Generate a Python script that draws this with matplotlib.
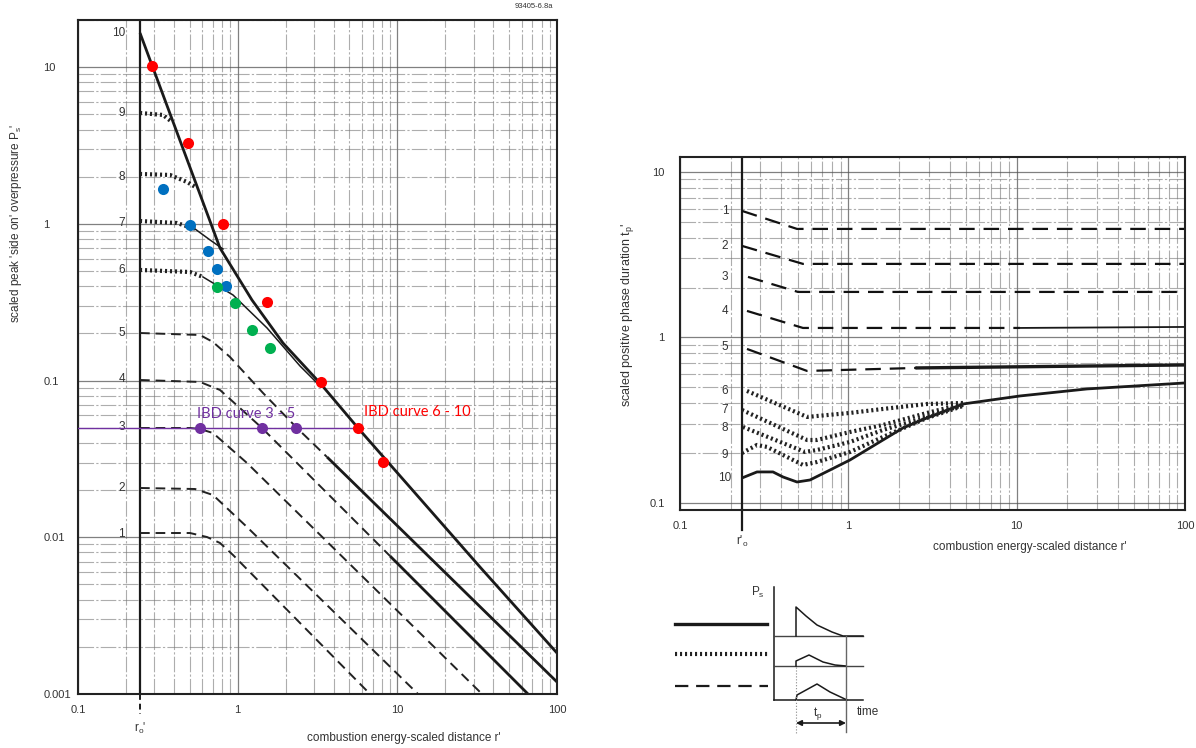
import matplotlib
matplotlib.use("Agg")
import matplotlib.pyplot as plt
from matplotlib.ticker import FixedLocator, FixedFormatter, NullFormatter

plt.rcParams['font.family'] = ['Liberation Sans', 'DejaVu Sans']

W, H = 1196, 748
INK = '#1a1a1a'
TXT = '#333333'

# ===================== Left chart: scaled peak side-on overpressure =====================
ro_left = 0.2445
left_xticks = [0.1, 1, 10, 100]
left_xticklabels = ['0.1', '1', '10', '100']
left_yticks = [0.001, 0.01, 0.1, 1, 10]
left_yticklabels = ['0.001', '0.01', '0.1', '1', '10']

c10_r = [0.2445, 0.7749, 1.229, 1.922, 3.278, 5.671, 32.94, 100]
c10_p = [16.53, 0.7016, 0.3268, 0.1737, 0.0965, 0.04983, 0.00646, 0.001826]
c9_r = [0.2445, 0.3406, 0.3880]
c9_p = [5.102, 4.955, 4.470]
c8_r = [0.2445, 0.3770, 0.4816, 0.5563]
c8_p = [2.082, 2.052, 1.851, 1.695]
c7_r = [0.2445, 0.4169, 0.5405]
c7_p = [1.043, 1.013, 0.9280]
c7_tail_r = [0.5405, 0.6712, 0.8091]
c7_tail_p = [0.9280, 0.7896, 0.6915]
c6_r = [0.2445, 0.5028, 0.6065]
c6_p = [0.5081, 0.4932, 0.4583]
c6_tail_r = [0.6065, 0.9350, 1.527, 2.457, 3.278]
c6_tail_p = [0.4583, 0.3518, 0.2167, 0.1239, 0.0924]
c5_r = [0.2445, 0.5806, 0.7004, 0.8954, 1.440, 2.352, 3.627]
c5_p = [0.2012, 0.1954, 0.1763, 0.1414, 0.0834, 0.04983, 0.03254]
c5_tail_r = [3.627, 100]
c5_tail_p = [0.03254, 0.001193]
c4_r = [0.2445, 0.5806, 0.7749, 1.420, 8.995]
c4_p = [0.1009, 0.0980, 0.0871, 0.04983, 0.00760]
c4_tail_r = [8.995, 65.81]
c4_tail_p = [0.00760, 0.001]
c3_r = [0.2445, 0.5028, 0.5806, 0.7004, 1.144, 33.90]
c3_p = [0.04983, 0.04983, 0.04910, 0.04630, 0.02979, 0.001]
c2_r = [0.2445, 0.5405, 0.7004, 1.144, 13.47]
c2_p = [0.02064, 0.02033, 0.01862, 0.01163, 0.001]
c1_r = [0.2445, 0.5028, 0.6424, 0.7749, 0.9350, 6.744]
c1_p = [0.01065, 0.01065, 0.01004, 0.00920, 0.00771, 0.001]

left_curve_names = ['1', '2', '3', '4', '5', '6', '7', '8', '9', '10']
left_curve_label_p = [0.0105, 0.02064, 0.0506, 0.1024, 0.2012, 0.5081, 1.013, 1.992, 5.102, 16.53]

red_r = [0.2907, 0.4886, 0.8091, 1.527, 3.326, 5.671, 8.133]
red_p = [10.18, 3.283, 0.9986, 0.3174, 0.0980, 0.04983, 0.03022]
blue_r = [0.3406, 0.5028, 0.6518, 0.7421, 0.8451]
blue_p = [1.670, 0.984, 0.6718, 0.5157, 0.4016]
green_r = [0.7421, 0.9623, 1.229, 1.594]
green_p = [0.3957, 0.3128, 0.2103, 0.1614]
purple_r = [0.5806, 1.420, 2.319]
purple_p = [0.04983, 0.04983, 0.04983]
ibd_level = 0.04983
ibd_line_end = 5.671

# ===================== Right chart: scaled positive phase duration =====================
ro_right = 0.2335
right_xticks = [0.1, 1, 10, 100]
right_xticklabels = ['0.1', '1', '10', '100']
right_yticks = [0.1, 1, 10]
right_yticklabels = ['0.1', '1', '10']

d1_r = [0.2335, 0.4955, 100]
d1_t = [5.812, 4.524, 4.524]
d2_r = [0.2335, 0.5378, 100]
d2_t = [3.572, 2.781, 2.781]
d3_r = [0.2535, 0.5023, 100]
d3_t = [2.321, 1.883, 1.883]
d4_r = [0.2500, 0.5378, 10.47]
d4_t = [1.446, 1.141, 1.141]
d4_tail_r = [10.47, 100]
d4_tail_t = [1.141, 1.157]
d5_r = [0.2500, 0.5682, 2.559]
d5_t = [0.8520, 0.6276, 0.6543]
d5_tail_r = [2.559, 100]
d5_tail_t = [0.6543, 0.6820]
d6_r = [0.2500, 0.5682, 1.023, 1.607, 2.934, 4.799]
d6_t = [0.4750, 0.3309, 0.3499, 0.3698, 0.3963, 0.4018]
d7_r = [0.2335, 0.5682, 0.6515, 1.023, 1.607, 2.934, 4.799]
d7_t = [0.3646, 0.2402, 0.2402, 0.2685, 0.2960, 0.3499, 0.3963]
d8_r = [0.2367, 0.5527, 0.6515, 1.023, 1.607, 2.934, 4.799]
d8_t = [0.2878, 0.2033, 0.2090, 0.2337, 0.2762, 0.3309, 0.3911]
d9_r = [0.2335, 0.2867, 0.3286, 0.5378, 0.6515, 1.023, 1.607, 2.934, 4.799]
d9_t = [0.2004, 0.2241, 0.2181, 0.1697, 0.1769, 0.2033, 0.2506, 0.3263, 0.3856]
d10_r = [0.2335, 0.2867, 0.3568, 0.4091, 0.4955, 0.5920, 0.7784, 1.023, 1.607,
         2.112, 2.934, 4.799, 10.47, 26.18, 100]
d10_t = [0.1416, 0.1540, 0.1540, 0.1436, 0.1339, 0.1377, 0.1582, 0.1819, 0.2402,
         0.2839, 0.3263, 0.3963, 0.4431, 0.4885, 0.5309]

right_curve_names = ['1', '2', '3', '4', '5', '6', '7', '8', '9', '10']
right_curve_label_t = [5.812, 3.572, 2.321, 1.446, 0.8762, 0.4750, 0.3646, 0.2839, 0.1950, 0.1416]

# ===================== Legend schematic (pixel-space drawing) =====================
leg_solid_x = [675, 767]
leg_hatch_x = [675, 768]
leg_dash_x = [675, 768]
leg_rows_y = [624, 654, 686]
pulse1_x = [796, 796, 806, 817, 832, 843, 863]
pulse1_y = [636, 607, 616, 625, 632, 636, 636]
pulse2_x = [796, 796, 809, 823, 835, 846]
pulse2_y = [666, 661, 655, 662, 665, 666]
pulse3_x = [796, 797, 817, 830, 847]
pulse3_y = [700, 695, 684, 692, 700]

# ---------------------------------------------------------------------------
fig = plt.figure(figsize=(W / 100, H / 100), dpi=100)


def fig_rect(x0, y0, x1, y1):
    return [x0 / W, 1 - y1 / H, (x1 - x0) / W, (y1 - y0) / H]


def style_axes(ax, xlim, ylim, xt, xtl, yt, ytl, ypad, yha):
    ax.set_xscale('log')
    ax.set_yscale('log')
    ax.set_xlim(*xlim)
    ax.set_ylim(*ylim)
    ax.xaxis.set_major_locator(FixedLocator(xt))
    ax.xaxis.set_major_formatter(FixedFormatter(xtl))
    ax.yaxis.set_major_locator(FixedLocator(yt))
    ax.yaxis.set_major_formatter(FixedFormatter(ytl))
    ax.xaxis.set_minor_formatter(NullFormatter())
    ax.yaxis.set_minor_formatter(NullFormatter())
    ax.tick_params(which='both', length=0, labelsize=8, labelcolor=TXT)
    ax.tick_params(axis='x', pad=8)
    ax.tick_params(axis='y', pad=ypad)
    for lb in ax.get_yticklabels():
        lb.set_horizontalalignment(yha)
    ax.grid(True, which='major', color='#555555', lw=0.9, ls='-', alpha=0.75)
    ax.grid(True, which='minor', color='#777777', lw=0.8,
            ls=(0, (14, 2, 2, 2)), alpha=0.6)
    for s in ax.spines.values():
        s.set_linewidth(1.5)
        s.set_color('#222222')


solid = dict(color=INK, lw=2.0, solid_capstyle='butt')
thin = dict(color=INK, lw=1.1)
hatch = dict(color='#222222', lw=3.0, ls=(0, (0.5, 0.7)), dash_capstyle='butt')
dash_l = dict(color='#222222', lw=1.4, ls=(0, (5, 3)))
dash_r = dict(color='#111111', lw=1.6, ls=(0, (7, 4)))

# ------------------------------ left -------------------------------
ax1 = fig.add_axes(fig_rect(78, 20, 557, 694))
style_axes(ax1, (0.1, 100), (0.001, 20), left_xticks, left_xticklabels,
           left_yticks, left_yticklabels, 25, 'left')

ax1.axvline(ro_left, color=INK, lw=1.6)
ax1.plot([ro_left, ro_left], [0.001, 0.00075], color=INK, lw=1.4, ls=(0, (3, 2)),
         clip_on=False)

ax1.plot(c10_r, c10_p, **solid)
ax1.plot(c9_r, c9_p, **hatch)
ax1.plot(c8_r, c8_p, **hatch)
ax1.plot(c7_r, c7_p, **hatch)
ax1.plot(c7_tail_r, c7_tail_p, **thin)
ax1.plot(c6_r, c6_p, **hatch)
ax1.plot(c6_tail_r, c6_tail_p, **thin)
ax1.plot(c5_r, c5_p, **dash_l)
ax1.plot(c5_tail_r, c5_tail_p, **solid)
ax1.plot(c4_r, c4_p, **dash_l)
ax1.plot(c4_tail_r, c4_tail_p, **solid)
ax1.plot(c3_r, c3_p, **dash_l)
ax1.plot(c2_r, c2_p, **dash_l)
ax1.plot(c1_r, c1_p, **dash_l)

for name, p in zip(left_curve_names, left_curve_label_p):
    ax1.text(0.197, p, name, ha='right', va='center', fontsize=8.5, color=TXT)

ax1.plot([0.1, ibd_line_end], [ibd_level, ibd_level], color='#7030A0', lw=1.0, zorder=4)
ax1.plot(red_r, red_p, 'o', color='#FF0000', ms=8, zorder=5, mec='none')
ax1.plot(blue_r, blue_p, 'o', color='#0070C0', ms=8, zorder=5, mec='none')
ax1.plot(green_r, green_p, 'o', color='#00B050', ms=8, zorder=5, mec='none')
ax1.plot(purple_r, purple_p, 'o', color='#7030A0', ms=8, zorder=5, mec='none')
ax1.text(0.5563, 0.0612, 'IBD curve 3 - 5', color='#7030A0', fontsize=10.5,
         family=['Lato', 'DejaVu Sans'], ha='left', va='center', zorder=6)
ax1.text(6.183, 0.0630, 'IBD curve 6 - 10', color='#FF0000', fontsize=10.5,
         family=['Lato', 'DejaVu Sans'], ha='left', va='center', zorder=6)

fig.text(16 / W, 1 - 223 / H, "scaled peak 'side on' overpressure P$_\\mathregular{s}$'",
         rotation=90, ha='center', va='center', fontsize=8.5, color=TXT)
fig.text(307 / W, 1 - 738 / H, "combustion energy-scaled distance r'",
         ha='left', va='center', fontsize=8.5, color=TXT)
fig.text(140 / W, 1 - 728 / H, "r$_\\mathregular{o}$'", ha='center', va='center',
         fontsize=8.5, color=TXT)
fig.text(534 / W, 1 - 6 / H, '93405-6.8a', ha='center', va='center', fontsize=5.5,
         color=TXT)

# ------------------------------ right ------------------------------
ax2 = fig.add_axes(fig_rect(680, 157, 1185, 510))
style_axes(ax2, (0.1, 100), (0.0907, 12.3), right_xticks, right_xticklabels,
           right_yticks, right_yticklabels, 11, 'right')

ax2.axvline(ro_right, color=INK, lw=1.6)
ax2.plot([ro_right, ro_right], [0.0907, 0.0687], color=INK, lw=1.6, clip_on=False)

ax2.plot(d10_r, d10_t, **solid)
ax2.plot(d1_r, d1_t, **dash_r)
ax2.plot(d2_r, d2_t, **dash_r)
ax2.plot(d3_r, d3_t, **dash_r)
ax2.plot(d4_r, d4_t, **dash_r)
ax2.plot(d4_tail_r, d4_tail_t, color=INK, lw=1.3)
ax2.plot(d5_r, d5_t, **dash_r)
ax2.plot(d5_tail_r, d5_tail_t, color=INK, lw=2.4)
for rr, tt in [(d6_r, d6_t), (d7_r, d7_t), (d8_r, d8_t), (d9_r, d9_t)]:
    ax2.plot(rr, tt, **hatch)

for name, t in zip(right_curve_names, right_curve_label_t):
    ax2.text(0.185, t, name, ha='center', va='center', fontsize=8.5, color=TXT)

fig.text(628 / W, 1 - 315 / H, "scaled positive phase duration t$_\\mathregular{p}$'",
         rotation=90, ha='center', va='center', fontsize=9, color=TXT)
fig.text(933 / W, 1 - 547 / H, "combustion energy-scaled distance r'",
         ha='left', va='center', fontsize=8.5, color=TXT)
fig.text(742 / W, 1 - 541 / H, "r'$_\\mathregular{o}$", ha='center', va='center',
         fontsize=8.5, color=TXT)

# ------------------------------ legend schematic -------------------
ax3 = fig.add_axes(fig_rect(660, 575, 900, 745))
ax3.set_xlim(660, 900)
ax3.set_ylim(745, 575)
ax3.axis('off')
ax3.plot(leg_solid_x, [leg_rows_y[0]] * 2, color=INK, lw=2.4)
ax3.plot(leg_hatch_x, [leg_rows_y[1]] * 2, color='#222222', lw=3.0,
         ls=(0, (0.5, 0.7)))
ax3.plot(leg_dash_x, [leg_rows_y[2]] * 2, color=INK, lw=1.6, ls=(0, (6, 3.5)))
ax3.plot([774, 774], [587, 700], color=INK, lw=1.1)
ax3.plot([774, 863], [700, 700], color=INK, lw=1.1)
ax3.plot([774, 863], [636, 636], color='#444444', lw=1.0)
ax3.plot([774, 863], [666, 666], color='#444444', lw=1.0)
ax3.plot(pulse1_x, pulse1_y, color=INK, lw=1.1)
ax3.plot(pulse2_x, pulse2_y, color=INK, lw=1.1)
ax3.plot(pulse3_x, pulse3_y, color=INK, lw=1.1)
ax3.plot([846, 846], [636, 732], color='#666666', lw=1.0)
ax3.plot([796, 796], [667, 733], color='#888888', lw=0.8, ls=':')
ax3.annotate('', xy=(796, 723), xytext=(846, 723),
             arrowprops=dict(arrowstyle='<|-|>', lw=1.2, color=INK,
                             mutation_scale=8, shrinkA=0, shrinkB=0))
ax3.text(758, 592, 'P$_\\mathregular{s}$', ha='center', va='center', fontsize=8.5,
         color=TXT)
ax3.text(868, 712, 'time', ha='center', va='center', fontsize=8.5, color=TXT)
ax3.text(818, 713, 't$_\\mathregular{p}$', ha='center', va='center', fontsize=8.5,
         color=TXT)

fig.savefig('out.png', dpi=100)
